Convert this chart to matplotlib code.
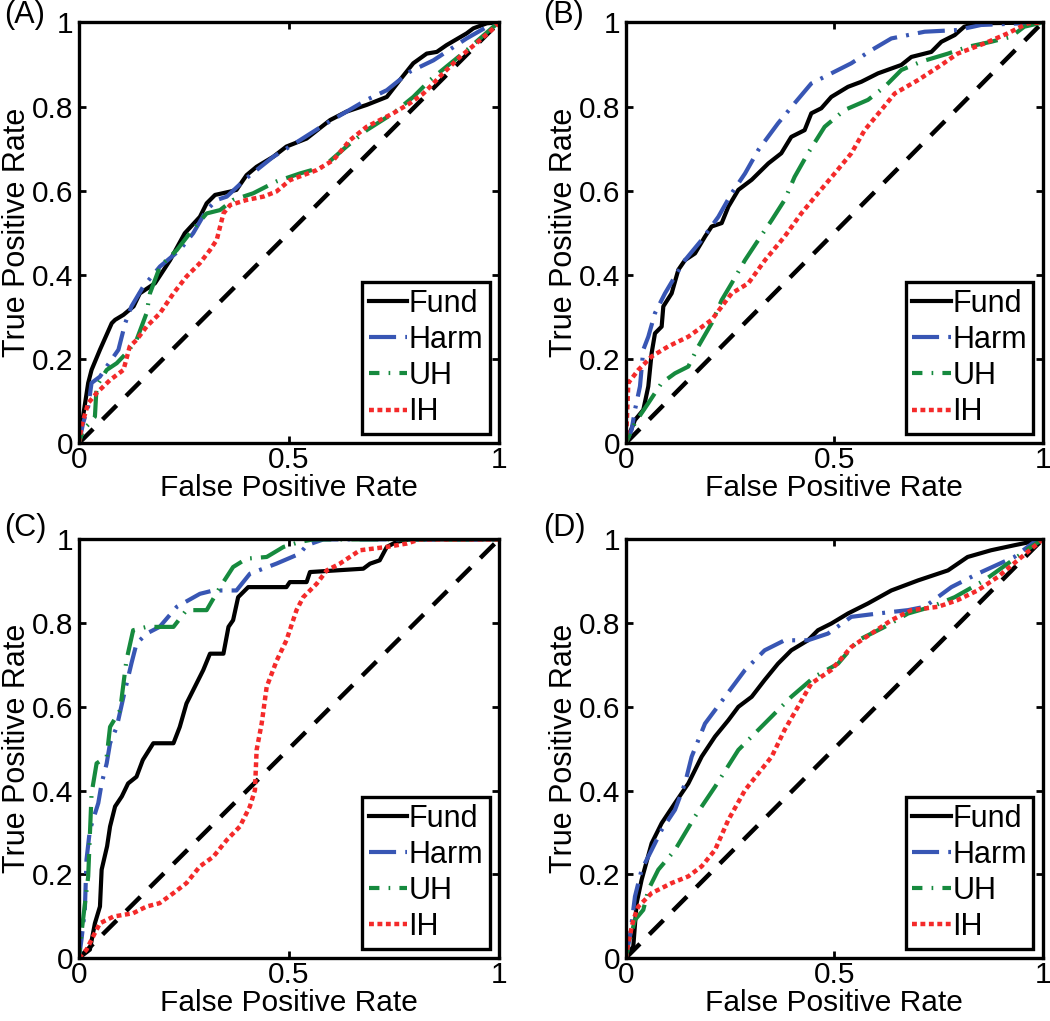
import numpy as np
import matplotlib
matplotlib.use('Agg')
import matplotlib.pyplot as plt

# ROC curves, (FPR, TPR) pairs per method and panel
fund_a = [(0, 0), (0.022, 0.143), (0.03, 0.174), (0.05, 0.222), (0.078, 0.285), (0.086, 0.293),
          (0.106, 0.305), (0.13, 0.325), (0.145, 0.356), (0.181, 0.38), (0.217, 0.435), (0.252, 0.499),
          (0.288, 0.538), (0.304, 0.57), (0.324, 0.59), (0.36, 0.598), (0.375, 0.602), (0.399, 0.637),
          (0.423, 0.657), (0.463, 0.681), (0.494, 0.705), (0.542, 0.724), (0.598, 0.768), (0.637, 0.788),
          (0.685, 0.804), (0.733, 0.823), (0.764, 0.863), (0.796, 0.903), (0.828, 0.926), (0.852, 0.93),
          (0.875, 0.946), (0.923, 0.974), (0.939, 0.986), (0.971, 0.998), (1, 1)]
harm_a = [(0, 0), (0.01, 0.048), (0.022, 0.087), (0.03, 0.143), (0.05, 0.158), (0.066, 0.182),
          (0.094, 0.222), (0.11, 0.285), (0.125, 0.325), (0.153, 0.372), (0.193, 0.42), (0.24, 0.459),
          (0.272, 0.499), (0.304, 0.554), (0.328, 0.578), (0.352, 0.586), (0.399, 0.63), (0.463, 0.681),
          (0.526, 0.72), (0.589, 0.76), (0.685, 0.816), (0.733, 0.839), (0.788, 0.883), (0.844, 0.91),
          (0.923, 0.962), (0.979, 0.994), (1, 1)]
uh_a = [(0, 0), (0.01, 0.032), (0.026, 0.048), (0.038, 0.063), (0.042, 0.135), (0.066, 0.174),
        (0.09, 0.19), (0.113, 0.214), (0.137, 0.245), (0.161, 0.309), (0.169, 0.356), (0.193, 0.42),
        (0.233, 0.459), (0.264, 0.499), (0.304, 0.546), (0.336, 0.554), (0.367, 0.578), (0.415, 0.594),
        (0.47, 0.622), (0.526, 0.641), (0.582, 0.657), (0.637, 0.705), (0.685, 0.744), (0.748, 0.784),
        (0.796, 0.823), (0.836, 0.863), (0.875, 0.895), (0.923, 0.934), (0.987, 0.99), (1, 1)]
ih_a = [(0, 0), (0.006, 0.04), (0.022, 0.095), (0.042, 0.119), (0.074, 0.15), (0.106, 0.174),
        (0.121, 0.23), (0.137, 0.245), (0.161, 0.277), (0.193, 0.309), (0.225, 0.356), (0.256, 0.396),
        (0.288, 0.428), (0.312, 0.459), (0.328, 0.483), (0.344, 0.546), (0.36, 0.566), (0.399, 0.578),
        (0.439, 0.586), (0.47, 0.598), (0.502, 0.625), (0.566, 0.649), (0.606, 0.673), (0.645, 0.72),
        (0.685, 0.752), (0.748, 0.784), (0.788, 0.808), (0.82, 0.831), (0.867, 0.879), (0.907, 0.918),
        (0.955, 0.958), (0.987, 0.986), (1, 1)]

fund_b = [(0, 0), (0.022, 0.055), (0.042, 0.079), (0.054, 0.135), (0.062, 0.214), (0.07, 0.261),
          (0.086, 0.277), (0.09, 0.325), (0.11, 0.356), (0.126, 0.412), (0.142, 0.435), (0.166, 0.451),
          (0.19, 0.491), (0.206, 0.515), (0.23, 0.523), (0.246, 0.562), (0.27, 0.602), (0.302, 0.626),
          (0.342, 0.665), (0.373, 0.689), (0.397, 0.728), (0.429, 0.744), (0.445, 0.784), (0.469, 0.796),
          (0.493, 0.823), (0.533, 0.847), (0.565, 0.859), (0.605, 0.879), (0.661, 0.899), (0.685, 0.918),
          (0.733, 0.93), (0.757, 0.954), (0.789, 0.97), (0.812, 0.99), (0.844, 0.998), (1, 1)]
harm_b = [(0, 0), (0.014, 0.032), (0.022, 0.079), (0.034, 0.135), (0.042, 0.222), (0.054, 0.253),
          (0.07, 0.309), (0.094, 0.356), (0.118, 0.396), (0.142, 0.435), (0.182, 0.483), (0.222, 0.538),
          (0.254, 0.594), (0.286, 0.641), (0.318, 0.697), (0.365, 0.76), (0.405, 0.808), (0.445, 0.855),
          (0.493, 0.879), (0.541, 0.903), (0.589, 0.934), (0.637, 0.962), (0.717, 0.978), (0.796, 0.982),
          (0.852, 0.994), (1, 1)]
uh_b = [(0, 0), (0.022, 0.048), (0.054, 0.095), (0.086, 0.143), (0.118, 0.166), (0.15, 0.182),
        (0.174, 0.23), (0.206, 0.285), (0.23, 0.34), (0.254, 0.38), (0.286, 0.435), (0.318, 0.483),
        (0.35, 0.53), (0.381, 0.578), (0.405, 0.633), (0.437, 0.689), (0.477, 0.752), (0.525, 0.792),
        (0.581, 0.816), (0.621, 0.847), (0.661, 0.887), (0.709, 0.907), (0.773, 0.926), (0.82, 0.942),
        (0.876, 0.954), (0.924, 0.966), (0.956, 0.99), (1, 1)]
ih_b = [(0, 0), (0.002, 0.04), (0.006, 0.143), (0.03, 0.174), (0.062, 0.206), (0.102, 0.23),
        (0.15, 0.253), (0.206, 0.293), (0.254, 0.356), (0.294, 0.38), (0.334, 0.435), (0.381, 0.491),
        (0.421, 0.546), (0.461, 0.594), (0.501, 0.641), (0.541, 0.689), (0.573, 0.744), (0.613, 0.792),
        (0.645, 0.831), (0.701, 0.863), (0.757, 0.899), (0.796, 0.926), (0.86, 0.95), (0.916, 0.974),
        (0.964, 0.998), (1, 1)]

fund_c = [(0, 0), (0.026, 0.02), (0.038, 0.083), (0.05, 0.123), (0.054, 0.211), (0.067, 0.267),
          (0.074, 0.314), (0.086, 0.362), (0.102, 0.386), (0.117, 0.417), (0.137, 0.433), (0.152, 0.473),
          (0.177, 0.513), (0.225, 0.513), (0.24, 0.552), (0.256, 0.608), (0.272, 0.64), (0.296, 0.688),
          (0.312, 0.727), (0.344, 0.727), (0.356, 0.791), (0.367, 0.807), (0.379, 0.862), (0.403, 0.886),
          (0.494, 0.886), (0.502, 0.898), (0.542, 0.898), (0.55, 0.922), (0.677, 0.93), (0.693, 0.942),
          (0.716, 0.95), (0.733, 0.982), (0.756, 0.994), (0.788, 1.0), (1, 1)]
harm_c = [(0, 0), (0.006, 0.044), (0.014, 0.115), (0.018, 0.235), (0.026, 0.306), (0.046, 0.37),
          (0.054, 0.417), (0.066, 0.465), (0.074, 0.513), (0.09, 0.552), (0.106, 0.624), (0.125, 0.704),
          (0.137, 0.751), (0.161, 0.775), (0.192, 0.791), (0.233, 0.839), (0.288, 0.87), (0.32, 0.878),
          (0.375, 0.878), (0.407, 0.918), (0.47, 0.942), (0.526, 0.966), (0.542, 0.986), (0.582, 1.0),
          (1, 1)]
uh_c = [(0, 0), (0.006, 0.06), (0.022, 0.195), (0.03, 0.393), (0.042, 0.465), (0.066, 0.481),
        (0.074, 0.552), (0.098, 0.592), (0.113, 0.711), (0.129, 0.783), (0.161, 0.791), (0.225, 0.791),
        (0.256, 0.831), (0.304, 0.831), (0.336, 0.886), (0.367, 0.934), (0.399, 0.954), (0.447, 0.958),
        (0.487, 0.982), (0.526, 0.994), (0.558, 1.0), (1, 1)]
ih_c = [(0, 0), (0.018, 0.02), (0.034, 0.052), (0.05, 0.083), (0.082, 0.099), (0.129, 0.107),
        (0.161, 0.123), (0.192, 0.131), (0.225, 0.155), (0.256, 0.179), (0.288, 0.219), (0.32, 0.242),
        (0.352, 0.282), (0.383, 0.314), (0.407, 0.362), (0.419, 0.401), (0.423, 0.497), (0.435, 0.56),
        (0.447, 0.648), (0.471, 0.711), (0.494, 0.759), (0.518, 0.831), (0.534, 0.862), (0.566, 0.894),
        (0.59, 0.926), (0.621, 0.942), (0.669, 0.974), (0.733, 0.982), (0.78, 0.99), (0.812, 1.0), (1, 1)]

fund_d = [(0, 0), (0.018, 0.028), (0.026, 0.131), (0.038, 0.187), (0.062, 0.274), (0.086, 0.322),
          (0.118, 0.37), (0.15, 0.417), (0.182, 0.481), (0.214, 0.529), (0.246, 0.568), (0.27, 0.6),
          (0.302, 0.624), (0.333, 0.664), (0.365, 0.703), (0.397, 0.735), (0.437, 0.759), (0.461, 0.783),
          (0.493, 0.799), (0.533, 0.823), (0.581, 0.847), (0.637, 0.878), (0.701, 0.902), (0.773, 0.926),
          (0.82, 0.958), (0.876, 0.974), (0.932, 0.986), (1, 1)]
harm_d = [(0, 0), (0.01, 0.052), (0.022, 0.147), (0.038, 0.211), (0.062, 0.258), (0.086, 0.306),
          (0.118, 0.354), (0.142, 0.417), (0.158, 0.481), (0.19, 0.56), (0.238, 0.624), (0.286, 0.688),
          (0.333, 0.735), (0.381, 0.759), (0.437, 0.759), (0.485, 0.775), (0.541, 0.815), (0.605, 0.823),
          (0.677, 0.831), (0.717, 0.839), (0.781, 0.886), (0.844, 0.918), (0.932, 0.958), (0.98, 0.994),
          (1, 1)]
uh_d = [(0, 0), (0.01, 0.044), (0.022, 0.091), (0.042, 0.115), (0.054, 0.163), (0.078, 0.211),
        (0.118, 0.258), (0.166, 0.338), (0.214, 0.409), (0.27, 0.497), (0.333, 0.56), (0.397, 0.624),
        (0.453, 0.672), (0.509, 0.703), (0.557, 0.759), (0.621, 0.791), (0.677, 0.823), (0.733, 0.839),
        (0.789, 0.862), (0.86, 0.902), (0.916, 0.942), (0.972, 0.982), (1, 1)]
ih_d = [(0, 0), (0.006, 0.036), (0.018, 0.091), (0.03, 0.123), (0.062, 0.155), (0.11, 0.179),
        (0.15, 0.195), (0.182, 0.219), (0.214, 0.258), (0.246, 0.33), (0.286, 0.401), (0.318, 0.441),
        (0.35, 0.481), (0.381, 0.545), (0.413, 0.6), (0.445, 0.656), (0.493, 0.688), (0.541, 0.743),
        (0.589, 0.775), (0.637, 0.807), (0.685, 0.831), (0.749, 0.839), (0.796, 0.855), (0.844, 0.878),
        (0.892, 0.91), (0.94, 0.95), (1, 1)]

panel_labels = ['(A)', '(B)', '(C)', '(D)']
panels = [(fund_a, harm_a, uh_a, ih_a), (fund_b, harm_b, uh_b, ih_b),
          (fund_c, harm_c, uh_c, ih_c), (fund_d, harm_d, uh_d, ih_d)]
series_names = ['Fund', 'Harm', 'UH', 'IH']
x_ticks = [0, 0.5, 1]
y_ticks = [0, 0.2, 0.4, 0.6, 0.8, 1]

plt.rcParams['font.family'] = ['Liberation Sans', 'DejaVu Sans']
plt.rcParams['font.size'] = 22

styles = [
    dict(color='black', lw=3.0, ls='-'),
    dict(color='#3856b4', lw=3.0, ls=(0, (6.5, 2.2, 0.7, 2.2))),
    dict(color='#168a3e', lw=3.0, ls=(4, (6.5, 2.2, 0.4, 2.2))),
    dict(color='#f42a2a', lw=3.2, ls=(0, (1.1, 0.8))),
]

fig = plt.figure(figsize=(10.5, 10.21), dpi=100)
# axes boxes in figure fractions (left, bottom, width, height)
boxes = [(0.0752, 0.566, 0.400, 0.412), (0.596, 0.566, 0.397, 0.412),
         (0.0752, 0.0617, 0.400, 0.410), (0.596, 0.0617, 0.397, 0.410)]
label_pos = [(0.004, 1.0), (0.517, 1.0), (0.004, 0.498), (0.517, 0.498)]

for i, curves in enumerate(panels):
    ax = fig.add_axes(boxes[i])
    ax.plot([0, 1], [0, 1], color='black', lw=3.2, ls=(0, (4.5, 3.0)))
    for name, pts, st in zip(series_names, curves, styles):
        pts = np.array(pts)
        ax.plot(pts[:, 0], pts[:, 1], label=name, **st)
    ax.set_xlim(0, 1)
    ax.set_ylim(0, 1)
    ax.set_xticks(x_ticks)
    ax.set_xticklabels(['0', '0.5', '1'])
    ax.set_yticks(y_ticks)
    ax.set_yticklabels(['0', '0.2', '0.4', '0.6', '0.8', '1'])
    ax.tick_params(direction='in', length=5, width=2, top=True, right=True, labelsize=21.5)
    ax.tick_params(axis='x', pad=2)
    ax.tick_params(axis='y', pad=4)
    for sp in ax.spines.values():
        sp.set_linewidth(2.4)
    ax.set_xlabel('False Positive Rate', labelpad=0, fontsize=21.5)
    ax.set_ylabel('True Positive Rate', labelpad=0)
    leg = ax.legend(loc='lower right', fontsize=22, handlelength=1.25, handletextpad=0.05,
                    labelspacing=0.2, borderpad=0.22, borderaxespad=0.3, fancybox=False,
                    framealpha=1)
    leg.get_frame().set_edgecolor('black')
    leg.get_frame().set_linewidth(2.4)
    fig.text(label_pos[i][0], label_pos[i][1], panel_labels[i], ha='left', va='top', fontsize=22)

fig.savefig('out.png', dpi=100)
